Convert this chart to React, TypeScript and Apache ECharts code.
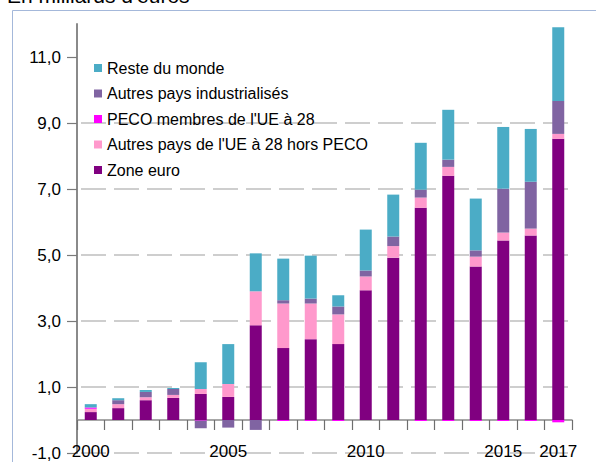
import React, { useEffect, useRef } from "react";
import * as echarts from "echarts";

const years = ["2000","2001","2002","2003","2004","2005","2006","2007","2008","2009","2010","2011","2012","2013","2014","2015","2016","2017"];
const zoneEuro = [0.24, 0.36, 0.60, 0.67, 0.79, 0.70, 2.87, 2.18, 2.45, 2.30, 3.93, 4.92, 6.43, 7.40, 4.65, 5.44, 5.59, 8.52];
const ueHorsPeco = [0.10, 0.12, 0.09, 0.09, 0.15, 0.39, 1.03, 1.35, 1.08, 0.90, 0.42, 0.35, 0.31, 0.27, 0.30, 0.24, 0.21, 0.15];
const pecoUe = [0.04, 0, 0, 0, -0.02, 0, 0, -0.03, -0.03, -0.03, 0, 0, -0.03, -0.03, -0.03, -0.03, -0.03, -0.07];
const autresInd = [0, 0.12, 0.16, 0.18, -0.23, -0.23, -0.30, 0.10, 0.15, 0.24, 0.18, 0.29, 0.24, 0.22, 0.19, 1.33, 1.42, 1.00];
const resteMonde = [0.10, 0.06, 0.06, 0.03, 0.81, 1.21, 1.15, 1.26, 1.30, 0.34, 1.24, 1.27, 1.42, 1.51, 1.57, 1.87, 1.60, 2.23];
const shownYears = ["2000", "2005", "2010", "2015", "2017"];
const yTicks = [-1, 1, 3, 5, 7, 9, 11];

const names = {
  zone: "Zone euro",
  hors: "Autres pays de l'UE à 28 hors PECO",
  peco: "PECO membres de l'UE à 28",
  autres: "Autres pays industrialisés",
  reste: "Reste du monde",
};
const colors = {
  zone: "#800080",
  hors: "#FF99CC",
  peco: "#FF00FF",
  autres: "#8064A2",
  reste: "#4BACC6",
};

const FONT = '"Liberation Sans", Arial, sans-serif';

export default function App() {
  const ref = useRef<HTMLDivElement>(null);
  useEffect(() => {
    if (!ref.current) return;
    const chart = echarts.init(ref.current, null, { renderer: "svg" });
    const mk = (key: keyof typeof names, data: number[]) => ({
      name: names[key],
      type: "bar",
      stack: "total",
      data,
      barWidth: 12,
      itemStyle: { color: colors[key] },
    });
    chart.setOption({
      animation: false,
      textStyle: { fontFamily: FONT },
      graphic: [
        {
          type: "rect",
          silent: true,
          z: -10,
          shape: { x: 12.5, y: 10.5, width: 700, height: 600 },
          style: { fill: "none", stroke: "#A4B8DA", lineWidth: 1 },
        },
        {
          type: "text",
          x: 7,
          y: 6,
          style: {
            text: "En milliards d'euros",
            fontSize: 21,
            fontFamily: FONT,
            fill: "#000",
            verticalAlign: "bottom",
          },
        },
      ],
      legend: {
        orient: "vertical",
        left: 89,
        top: 55,
        itemWidth: 8,
        itemHeight: 8,
        itemGap: 9.5,
        icon: "rect",
        data: [names.reste, names.autres, names.peco, names.hors, names.zone],
        textStyle: { fontSize: 16, fontFamily: FONT, color: "#000" },
      },
      grid: { left: 77, right: 24, top: 24, bottom: 9, containLabel: false, outerBoundsMode: "none" },
      xAxis: {
        type: "category",
        data: years,
        boundaryGap: true,
        axisLine: { onZero: true, lineStyle: { color: "#8A8A8A", width: 1.5 } },
        axisTick: { show: true, interval: 0, length: 10, lineStyle: { color: "#6E6E6E", width: 1.2 } },
        axisLabel: {
          interval: (i: number, v: string) => shownYears.includes(v),
          margin: -10,
          fontSize: 17,
          fontFamily: FONT,
          color: "#000",
        },
        splitLine: { show: false },
      },
      yAxis: {
        type: "value",
        min: -1,
        max: 12,
        interval: 2,
        axisLine: { show: true, lineStyle: { color: "#8A8A8A", width: 2 } },
        axisTick: { show: true, length: 10, customValues: yTicks, lineStyle: { color: "#7A7A7A", width: 1.2 } },
        axisLabel: {
          margin: 16,
          customValues: yTicks,
          fontSize: 17,
          fontFamily: FONT,
          color: "#000",
          formatter: (v: number) => v.toFixed(1).replace(".", ","),
        },
        splitLine: {
          show: true,
          showMaxLine: false,
          lineStyle: { color: "#BFBFBF", width: 1.5, type: [25, 8], dashOffset: 29 },
        },
      },
      series: [
        mk("zone", zoneEuro),
        mk("hors", ueHorsPeco),
        mk("peco", pecoUe),
        mk("autres", autresInd),
        mk("reste", resteMonde),
      ],
    });
    return () => chart.dispose();
  }, []);
  return (
    <div
      ref={ref}
      style={{ position: "absolute", left: 0, top: 0, width: 596, height: 462, background: "#fff" }}
    />
  );
}
